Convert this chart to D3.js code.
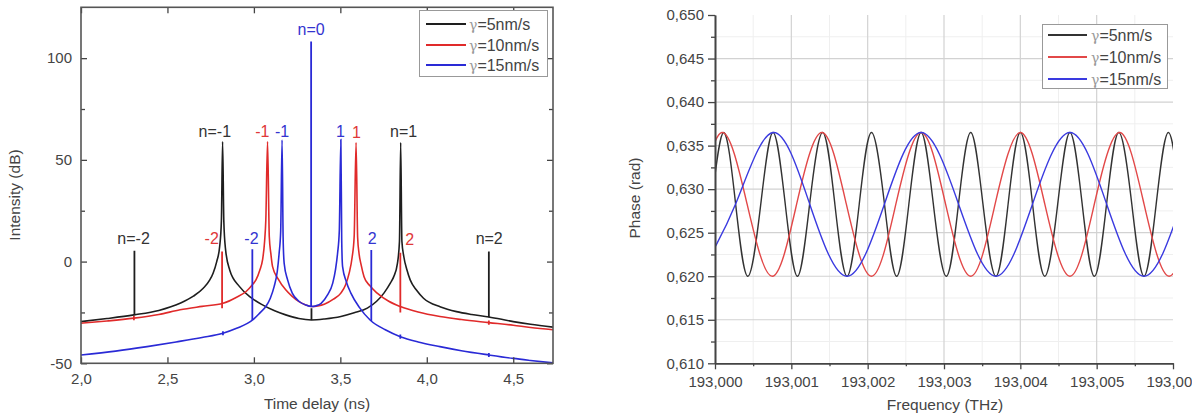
<!DOCTYPE html>
<html>
<head>
<meta charset="utf-8">
<script src="https://cdn.jsdelivr.net/npm/d3@7"></script>
<style>
  body { margin: 0; background: #fff; }
  svg { display: block; font-family: "Liberation Sans", Arial, sans-serif; }
  .tick text { fill: #444; font-size: 15px; }
  .axtitle { fill: #444; font-size: 15.5px; }
</style>
</head>
<body>
<svg id="chart" width="1192" height="413"></svg>
<script>
// ---- left panel: intensity vs time delay ----
var seriesNames = ["γ=5nm/s", "γ=10nm/s", "γ=15nm/s"];

var blackDelay = [2.000,2.150,2.306,2.450,2.573,2.650,2.707,2.745,2.764,2.785,2.802,2.812,2.819,2.826,2.836,2.860,2.917,2.980,3.050,3.120,3.184,3.260,3.333,3.410,3.503,3.580,3.656,3.710,3.752,3.790,3.809,3.830,3.842,3.849,3.856,3.867,3.885,3.904,3.940,3.981,4.080,4.172,4.260,4.359,4.500,4.600,4.730];
var blackIntensity = [-29.5,-28.0,-26.2,-24.0,-20.5,-17.0,-13.1,-9.0,-5.7,0,7.4,20,59,20,6,-4.1,-12.3,-17.5,-21.3,-24.2,-26.2,-28.0,-28.7,-28.2,-27.0,-25.2,-22.9,-19.5,-15.5,-10.5,-7.4,-1,10,58.5,10,2.5,-4,-9,-14,-18,-22.3,-24.6,-26.0,-27.2,-29.5,-30.8,-32.2];

var redDelay = [2.000,2.150,2.306,2.450,2.573,2.700,2.821,2.900,2.955,2.990,3.012,3.035,3.050,3.062,3.069,3.079,3.089,3.098,3.108,3.140,3.184,3.220,3.261,3.300,3.335,3.370,3.407,3.460,3.503,3.530,3.551,3.568,3.580,3.591,3.600,3.608,3.620,3.637,3.670,3.713,3.780,3.847,3.950,4.076,4.200,4.359,4.500,4.600,4.730];
var redIntensity = [-30.3,-29.2,-27.8,-26.0,-23.7,-22.0,-20.5,-17.5,-14.7,-11.5,-9,-4,0.8,10,20.5,59,12.3,4,-2.5,-8.5,-13.9,-17,-19.7,-21.3,-22.1,-21.8,-21.0,-18.5,-15.5,-11.5,-5.7,2,12.3,58.5,12,4.1,-1.5,-7.4,-11.8,-15.5,-19.5,-22.1,-24.8,-27.0,-28.5,-30.0,-31.3,-32.4,-33.5];

var blueDelay = [2.000,2.200,2.382,2.550,2.700,2.821,2.900,2.993,3.035,3.069,3.095,3.117,3.135,3.146,3.155,3.163,3.169,3.175,3.195,3.222,3.260,3.299,3.333,3.360,3.389,3.425,3.456,3.472,3.484,3.494,3.503,3.508,3.513,3.535,3.561,3.610,3.672,3.760,3.847,3.950,4.076,4.200,4.359,4.500,4.600,4.730];
var blueIntensity = [-45.9,-44.0,-41.8,-39.5,-37.3,-35.2,-32.8,-28.7,-25.2,-22.1,-18,-12.3,-5,4.1,15,59.8,12,-0.8,-9,-15.5,-19.5,-21.3,-22.1,-21.7,-20.5,-16.5,-10.6,-4,4.1,15,60,10,-2.5,-10,-15.5,-22.5,-28.7,-33.5,-36.9,-39.5,-41.8,-43.8,-45.9,-47.6,-48.6,-49.8];

// vertical order lines: [delay, from dB, to dB]
var blackSpikes = [[2.309,-26.4,5.3],[4.359,-27.4,4.9],[3.333,-28.7,-23]];
var redSpikes = [[2.816,-23.0,4.9],[3.847,-25.0,4.4],[2.306,-28.8,-26.8],[4.359,-31.0,-29.0]];
var blueSpikes = [[2.991,-28.7,6.1],[3.679,-29.2,5.7],[3.331,-22.1,108.2],[2.821,-36.2,-34.2],[3.847,-37.9,-35.9],[4.359,-46.9,-44.9]];

// order labels: [text, delay, dB(baseline)]
var blackLabels = [["n=-1",2.774,61.3],["n=1",3.866,61],["n=-2",2.304,8.7],["n=2",4.361,8.4]];
var redLabels = [["-1",3.049,61.3],["1",3.593,60.8],["-2",2.756,8.7],["2",3.901,8.2]];
var blueLabels = [["n=0",3.331,111.4],["-1",3.163,61.3],["1",3.500,61.3],["-2",2.986,8.7],["2",3.685,8.7]];

var leftXTicks = [2.0,2.5,3.0,3.5,4.0,4.5];
var leftYTicks = [-50,0,50,100];
var leftYMinor = [-25,25,75];

// ---- right panel: phase vs frequency (points just past both ends are clipped) ----
var blackFreq = [192.99978,192.99995,193.00011,193.00027,193.00043,193.00060,193.00076,193.00092,193.00108,193.00124,193.00141,193.00157,193.00173,193.00189,193.00205,193.00222,193.00238,193.00254,193.00270,193.00286,193.00303,193.00319,193.00335,193.00351,193.00368,193.00384,193.00400,193.00416,193.00432,193.00449,193.00465,193.00481,193.00497,193.00513,193.00529,193.00546,193.00562,193.00578,193.00594,193.00610];
var blackPhase = [0.6200,0.6283,0.6365,0.6283,0.6200,0.6283,0.6365,0.6283,0.6200,0.6283,0.6365,0.6283,0.6200,0.6283,0.6365,0.6283,0.6200,0.6283,0.6365,0.6283,0.6200,0.6283,0.6365,0.6283,0.6200,0.6283,0.6365,0.6283,0.6200,0.6283,0.6365,0.6283,0.6200,0.6283,0.6365,0.6283,0.6200,0.6283,0.6365,0.6283];

var redFreq = [192.99944,192.99977,193.00009,193.00042,193.00075,193.00107,193.00140,193.00172,193.00205,193.00237,193.00270,193.00302,193.00335,193.00367,193.00400,193.00432,193.00465,193.00497,193.00530,193.00562,193.00595,193.00627];
var redPhase = [0.6200,0.6283,0.6365,0.6283,0.6200,0.6283,0.6365,0.6283,0.6200,0.6283,0.6365,0.6283,0.6200,0.6283,0.6365,0.6283,0.6200,0.6283,0.6365,0.6283,0.6200,0.6283];

var blueFreq = [192.99978,193.00027,193.00076,193.00124,193.00173,193.00222,193.00270,193.00319,193.00368,193.00416,193.00465,193.00513,193.00562,193.00611];
var bluePhase = [0.6200,0.6283,0.6365,0.6283,0.6200,0.6283,0.6365,0.6283,0.6200,0.6283,0.6365,0.6283,0.6200,0.6283];

var rightXTicks = [193.000,193.001,193.002,193.003,193.004,193.005,193.006];
var rightXMinor = [193.0005,193.0015,193.0025,193.0035,193.0045,193.0055];
var rightYTicks = [0.610,0.615,0.620,0.625,0.630,0.635,0.640,0.645,0.650];
var rightYMinor = [0.6125,0.6175,0.6225,0.6275,0.6325,0.6375,0.6425,0.6475];

var colorsLeft = ["#1e1e1e", "#e02a2a", "#2a2ad6"];
var colorsRight = ["#333333", "#e24848", "#3a3ae0"];
var labelColors = ["#333333", "#e03838", "#3434d0"];

var locale = d3.formatLocale({decimal: ",", thousands: ".", grouping: [3], currency: ["", ""], minus: "-"});
var f1 = locale.format(".1f"), f3 = locale.format(".3f"), f0 = locale.format("d");

var svg = d3.select("#chart");
var defs = svg.append("defs");

// ================= LEFT =================
var x1 = d3.scaleLinear().domain([2.0, 4.73]).range([81, 553]);
var y1 = d3.scaleLinear().domain([-50, 125]).range([363.3, 7.3]);

var left = svg.append("g").attr("class", "left");

var curves = [
  [blackDelay, blackIntensity],
  [redDelay, redIntensity],
  [blueDelay, blueIntensity]
];
var spikes = [blackSpikes, redSpikes, blueSpikes];
var labels = [blackLabels, redLabels, blueLabels];

var line1 = d3.line()
  .curve(d3.curveMonotoneX)
  .x(function (d) { return x1(d[0]); })
  .y(function (d) { return y1(d[1]); });

defs.append("clipPath").attr("id", "clipL")
  .append("rect").attr("x", 81).attr("y", 7.3).attr("width", 553 - 81).attr("height", 363.3 - 7.3);

var plotL = left.append("g").attr("clip-path", "url(#clipL)");
curves.forEach(function (c, i) {
  var pts = d3.zip(c[0], c[1]);
  plotL.append("path")
    .attr("d", line1(pts))
    .attr("fill", "none")
    .attr("stroke", colorsLeft[i])
    .attr("stroke-width", 1.6);
  plotL.selectAll(null)
    .data(spikes[i])
    .enter().append("line")
    .attr("x1", function (d) { return x1(d[0]); })
    .attr("x2", function (d) { return x1(d[0]); })
    .attr("y1", function (d) { return y1(d[1]); })
    .attr("y2", function (d) { return y1(d[2]); })
    .attr("stroke", colorsLeft[i])
    .attr("stroke-width", 1.8);
});

labels.forEach(function (lab, i) {
  left.selectAll(null)
    .data(lab)
    .enter().append("text")
    .attr("x", function (d) { return x1(d[1]); })
    .attr("y", function (d) { return y1(d[2]); })
    .attr("text-anchor", "middle")
    .attr("font-size", 16)
    .attr("fill", labelColors[i])
    .text(function (d) { return d[0]; });
});

// axes, all ticks inward
left.append("g")
  .attr("transform", "translate(0,363.3)")
  .call(d3.axisBottom(x1).tickValues(leftXTicks).tickFormat(f1).tickSizeInner(-6).tickSizeOuter(0).tickPadding(10));
left.append("g")
  .attr("transform", "translate(0,7.3)")
  .call(d3.axisTop(x1).tickValues(leftXTicks).tickFormat("").tickSizeInner(-6).tickSizeOuter(0));
left.append("g")
  .attr("transform", "translate(81,0)")
  .call(d3.axisLeft(y1).tickValues(leftYTicks).tickFormat(f0).tickSizeInner(-6).tickSizeOuter(0).tickPadding(9));
left.append("g")
  .attr("transform", "translate(81,0)")
  .call(d3.axisLeft(y1).tickValues(leftYMinor).tickFormat("").tickSizeInner(-4).tickSizeOuter(0));
left.append("g")
  .attr("transform", "translate(553,0)")
  .call(d3.axisRight(y1).tickValues(leftYTicks).tickFormat("").tickSizeInner(-6).tickSizeOuter(0));
left.append("g")
  .attr("transform", "translate(553,0)")
  .call(d3.axisRight(y1).tickValues(leftYMinor).tickFormat("").tickSizeInner(-4).tickSizeOuter(0));
left.selectAll(".domain").remove();
left.selectAll(".tick line").attr("stroke", "#444").attr("stroke-width", 1.3);

left.append("rect")
  .attr("x", 81).attr("y", 7.3).attr("width", 553 - 81).attr("height", 363.3 - 7.3)
  .attr("fill", "none").attr("stroke", "#555").attr("stroke-width", 1.6);

left.append("text").attr("class", "axtitle")
  .attr("text-anchor", "middle")
  .attr("transform", "translate(20,195) rotate(-90)")
  .text("Intensity (dB)");
left.append("text").attr("class", "axtitle")
  .attr("text-anchor", "middle")
  .attr("x", 317).attr("y", 409)
  .text("Time delay (ns)");

function legend(g, x0, y0, w, h, lineX0, lineX1, textX, rowY, cols) {
  g.append("rect").attr("x", x0).attr("y", y0).attr("width", w).attr("height", h)
    .attr("fill", "#fff").attr("stroke", "#999").attr("stroke-width", 1);
  seriesNames.forEach(function (name, i) {
    g.append("line")
      .attr("x1", lineX0).attr("x2", lineX1)
      .attr("y1", rowY[i]).attr("y2", rowY[i])
      .attr("stroke", cols[i]).attr("stroke-width", 1.8);
    var t = g.append("text").attr("x", textX).attr("y", rowY[i] + 5.5).attr("font-size", 16).attr("fill", "#444");
    t.append("tspan").attr("font-family", "DejaVu Serif, serif").attr("fill", "#9a9a9a").attr("font-size", 14).text(name.charAt(0));
    t.append("tspan").text(name.slice(1));
  });
}
legend(left, 419.5, 10.5, 128, 66, 426, 466, 469, [24, 45, 65], colorsLeft);

// ================= RIGHT =================
var x2 = d3.scaleLinear().domain([193.000, 193.006]).range([715, 1173]);
var y2 = d3.scaleLinear().domain([0.610, 0.650]).range([363.3, 15]);

var right = svg.append("g").attr("class", "right");

// grid
right.selectAll(null).data(rightXMinor).enter().append("line")
  .attr("x1", function (d) { return x2(d); }).attr("x2", function (d) { return x2(d); })
  .attr("y1", y2(0.610)).attr("y2", y2(0.650))
  .attr("stroke", "#efefef").attr("stroke-width", 1);
right.selectAll(null).data(rightYMinor).enter().append("line")
  .attr("y1", function (d) { return y2(d); }).attr("y2", function (d) { return y2(d); })
  .attr("x1", x2(193.000)).attr("x2", x2(193.006))
  .attr("stroke", "#efefef").attr("stroke-width", 1);
right.selectAll(null).data(rightXTicks.slice(1, -1)).enter().append("line")
  .attr("x1", function (d) { return x2(d); }).attr("x2", function (d) { return x2(d); })
  .attr("y1", y2(0.610)).attr("y2", y2(0.650))
  .attr("stroke", "#d2d2d2").attr("stroke-width", 1.2);
right.selectAll(null).data(rightYTicks.slice(1, -1)).enter().append("line")
  .attr("y1", function (d) { return y2(d); }).attr("y2", function (d) { return y2(d); })
  .attr("x1", x2(193.000)).attr("x2", x2(193.006))
  .attr("stroke", "#d2d2d2").attr("stroke-width", 1.2);

defs.append("clipPath").attr("id", "clipR")
  .append("rect").attr("x", 715).attr("y", 10).attr("width", 1173 - 715).attr("height", 360);

var line2 = d3.line()
  .curve(d3.curveNatural)
  .x(function (d) { return x2(d[0]); })
  .y(function (d) { return y2(d[1]); });

var plotR = right.append("g").attr("clip-path", "url(#clipR)");
[[blackFreq, blackPhase], [redFreq, redPhase], [blueFreq, bluePhase]].forEach(function (c, i) {
  plotR.append("path")
    .attr("d", line2(d3.zip(c[0], c[1])))
    .attr("fill", "none")
    .attr("stroke", colorsRight[i])
    .attr("stroke-width", 1.4);
});

// axes, ticks outward
right.append("g")
  .attr("transform", "translate(0,363.3)")
  .call(d3.axisBottom(x2).tickValues(rightXTicks).tickFormat(f3).tickSizeInner(6).tickSizeOuter(0).tickPadding(7));
right.append("g")
  .attr("transform", "translate(0,363.3)")
  .call(d3.axisBottom(x2).tickValues(rightXMinor).tickFormat("").tickSizeInner(3).tickSizeOuter(0));
right.append("g")
  .attr("transform", "translate(715,0)")
  .call(d3.axisLeft(y2).tickValues(rightYTicks).tickFormat(f3).tickSizeInner(7).tickSizeOuter(0).tickPadding(4));
right.append("g")
  .attr("transform", "translate(715,0)")
  .call(d3.axisLeft(y2).tickValues(rightYMinor).tickFormat("").tickSizeInner(4).tickSizeOuter(0));
right.selectAll(".domain").attr("stroke", "#444").attr("stroke-width", 1.6);
right.selectAll(".tick line").attr("stroke", "#444").attr("stroke-width", 1.3);

right.append("text").attr("class", "axtitle")
  .attr("text-anchor", "middle")
  .attr("transform", "translate(640,198) rotate(-90)")
  .text("Phase (rad)");
right.append("text").attr("class", "axtitle")
  .attr("text-anchor", "middle")
  .attr("x", 945).attr("y", 410)
  .text("Frequency (THz)");

legend(right, 1042.5, 24.5, 125, 64, 1048, 1087, 1091, [35, 57, 79], colorsRight);
</script>
</body>
</html>
